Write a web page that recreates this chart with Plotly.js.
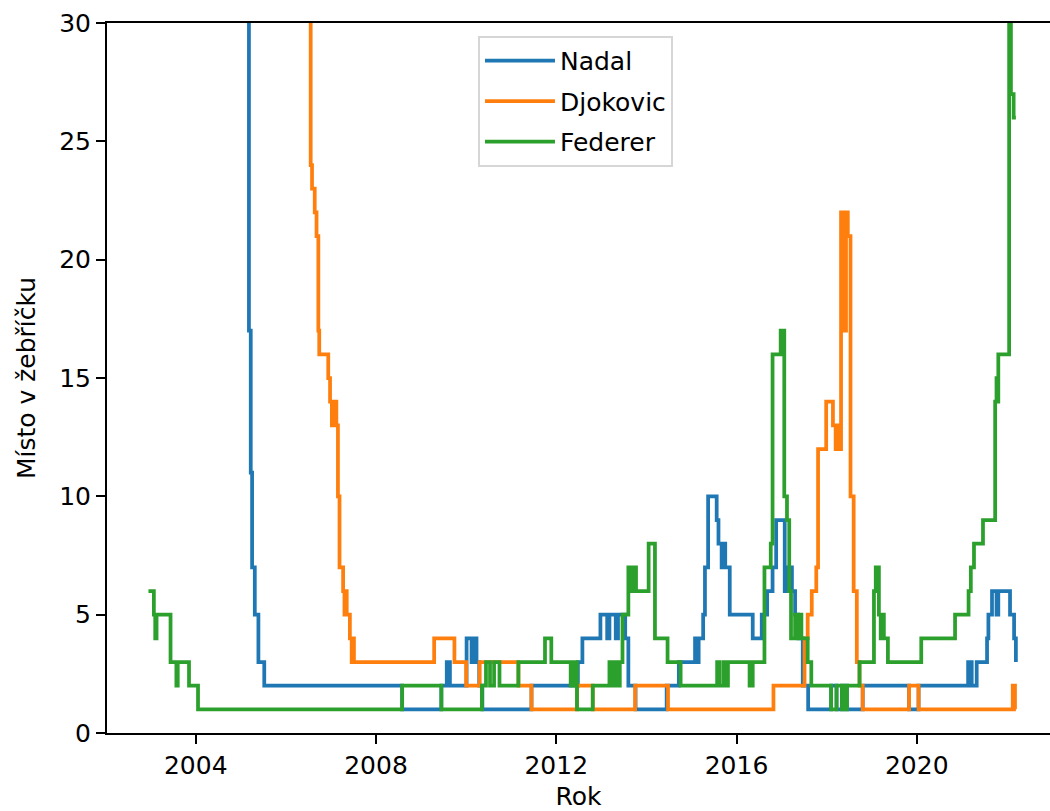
<!DOCTYPE html>
<html>
<head>
<meta charset="utf-8">
<script src="https://cdn.plot.ly/plotly-3.0.1.min.js"></script>
<style>
  html, body { margin: 0; padding: 0; background: #ffffff; }
  #chart { width: 1050px; height: 811px; }
</style>
</head>
<body>
<div id="chart"></div>
<script>
// ATP singles ranking history. Each pair (year, rank) is the moment (as a
// decimal year) from which a player held that rank; the line steps there.
const nadalYear = [2002.95, 2004.00, 2005.00, 2005.18, 2005.22, 2005.25, 2005.31, 2005.39, 2005.52,
  2008.58, 2009.45, 2009.57, 2009.64, 2010.01, 2010.12, 2010.17, 2010.23, 2010.29, 2010.36,
  2011.45, 2012.48, 2012.58, 2012.98, 2013.13, 2013.18, 2013.32, 2013.37, 2013.53, 2013.60, 2013.76,
  2014.45, 2014.72, 2015.08, 2015.12, 2015.16, 2015.26, 2015.30, 2015.37, 2015.56, 2015.60,
  2015.67, 2015.71, 2015.75, 2015.85, 2016.36, 2016.56, 2016.68, 2016.80, 2016.88,
  2017.07, 2017.11, 2017.15, 2017.19, 2017.23, 2017.30, 2017.37, 2017.47, 2017.59,
  2018.10, 2018.22, 2018.34, 2018.36, 2018.43, 2018.45, 2018.80, 2019.83, 2020.04,
  2021.14, 2021.22, 2021.33, 2021.56, 2021.59, 2021.67, 2021.77, 2021.81, 2022.07, 2022.16, 2022.20];
const nadalRank = [200, 49, 51, 17, 11, 7, 5, 3, 2,
  1, 2, 3, 2, 4, 3, 4, 3, 2, 1,
  2, 3, 4, 5, 4, 5, 4, 5, 4, 2, 1,
  2, 3, 4, 3, 4, 5, 7, 10, 9, 8,
  7, 8, 7, 5, 4, 5, 6, 7, 9,
  6, 7, 6, 7, 6, 5, 4, 2, 1,
  2, 1, 2, 1, 2, 1, 2, 1, 2,
  3, 2, 3, 4, 5, 6, 5, 6, 5, 4, 3];

const djokovicYear = [2002.95, 2004.00, 2005.00, 2006.00, 2006.45, 2006.55, 2006.58, 2006.64, 2006.68,
  2006.72, 2006.74, 2006.94, 2006.98, 2007.02, 2007.08, 2007.12, 2007.155, 2007.19, 2007.27,
  2007.30, 2007.32, 2007.35, 2007.42, 2007.46, 2007.48, 2007.51, 2009.29, 2009.74, 2010.00,
  2010.30, 2011.16, 2011.45, 2012.46, 2012.81, 2013.75, 2014.48, 2016.82, 2017.51, 2017.58,
  2017.67, 2017.77, 2017.81, 2017.99, 2018.14, 2018.20, 2018.23, 2018.27, 2018.32, 2018.40,
  2018.43, 2018.47, 2018.53, 2018.60, 2018.67, 2018.73, 2018.80, 2019.83, 2020.04, 2022.13,
  2022.18, 2022.20];
const djokovicRank = [680, 187, 83, 78, 40, 24, 23, 22, 21,
  17, 16, 15, 14, 13, 14, 13, 10, 7, 6,
  5, 6, 5, 4, 3, 4, 3, 4, 3, 2,
  3, 2, 1, 2, 1, 2, 1, 2, 4, 5,
  6, 7, 12, 14, 13, 12, 13, 12, 22, 17,
  22, 21, 10, 6, 3, 2, 1, 2, 1, 2,
  1, 1];

const federerYear = [2002.95, 2003.07, 2003.10, 2003.13, 2003.44, 2003.57, 2003.60, 2003.85, 2004.05,
  2008.58, 2009.45, 2010.35, 2010.44, 2010.53, 2010.62, 2010.74, 2011.16, 2011.75, 2011.89,
  2012.32, 2012.38, 2012.46, 2012.81, 2013.18, 2013.25, 2013.30, 2013.36, 2013.41, 2013.47,
  2013.60, 2013.67, 2013.71, 2013.77, 2014.05, 2014.19, 2014.47, 2014.76, 2015.57, 2015.63,
  2015.72, 2015.76, 2015.81, 2016.29, 2016.36, 2016.62, 2016.76, 2016.80, 2016.98, 2017.06,
  2017.12, 2017.17, 2017.21, 2017.30, 2017.34, 2017.37, 2017.44, 2017.58, 2017.66, 2018.10,
  2018.22, 2018.34, 2018.36, 2018.43, 2018.45, 2018.73, 2019.05, 2019.09, 2019.16, 2019.20,
  2019.23, 2019.27, 2019.36, 2020.10, 2020.85, 2021.15, 2021.20, 2021.27, 2021.47, 2021.74,
  2021.77, 2021.79, 2021.81, 2022.05, 2022.09, 2022.15, 2022.20];
const federerRank = [6, 5, 4, 5, 3, 2, 3, 2, 1,
  2, 1, 2, 3, 2, 3, 2, 3, 4, 3,
  2, 3, 1, 2, 3, 2, 3, 2, 3, 5,
  7, 6, 7, 6, 8, 4, 3, 2, 3, 2,
  3, 2, 3, 2, 3, 7, 8, 16, 17, 10,
  9, 6, 4, 5, 4, 5, 4, 3, 2, 1,
  2, 1, 2, 1, 2, 3, 6, 7, 5, 4,
  5, 4, 3, 4, 5, 6, 7, 8, 9, 14,
  15, 14, 16, 30, 27, 26, 26];

const playerNames = ['Nadal', 'Djokovic', 'Federer'];
const xTickYears = [2004, 2008, 2012, 2016, 2020];
const yTickRanks = [0, 5, 10, 15, 20, 25, 30];

const series = [
  { name: playerNames[0], x: nadalYear, y: nadalRank, color: '#1f77b4' },
  { name: playerNames[1], x: djokovicYear, y: djokovicRank, color: '#ff7f0e' },
  { name: playerNames[2], x: federerYear, y: federerRank, color: '#2ca02c' }
];

const traces = series.map(s => ({
  type: 'scatter',
  mode: 'lines',
  name: s.name,
  legendgroup: s.name,
  x: s.x,
  y: s.y,
  line: { color: s.color, width: 3.75, shape: 'hv' },
  hoverinfo: 'skip'
}));

const baseFont = { family: 'DejaVu Sans, sans-serif', size: 25, color: '#000000' };

const axisCommon = {
  showgrid: false,
  zeroline: false,
  showline: true,
  linecolor: '#000000',
  linewidth: 2,
  ticks: 'outside',
  ticklen: 9,
  tickwidth: 2,
  tickcolor: '#000000',
  tickfont: baseFont
};

const layout = {
  width: 1050,
  height: 811,
  margin: { l: 107, r: 0, t: 23, b: 78, pad: 0 },
  paper_bgcolor: '#ffffff',
  plot_bgcolor: '#ffffff',
  font: baseFont,
  showlegend: true,
  xaxis: Object.assign({}, axisCommon, {
    type: 'linear',
    range: [2002.03, 2022.957],
    tickvals: xTickYears,
    ticktext: xTickYears.map(String),
    mirror: true,
    title: { text: 'Rok', font: baseFont, standoff: 10 }
  }),
  yaxis: Object.assign({}, axisCommon, {
    range: [0, 30],
    tickvals: yTickRanks,
    ticktext: yTickRanks.map(String),
    title: { text: 'Místo v žebříčku', font: baseFont, standoff: 16 }
  }),
  legend: {
    x: 0.3934,
    y: 0.982,
    xanchor: 'left',
    yanchor: 'top',
    bgcolor: '#ffffff',
    bordercolor: '#d6d6d6',
    borderwidth: 2,
    font: baseFont,
    itemwidth: 70,
    tracegroupgap: 5,
    entrywidthmode: 'pixels',
    entrywidth: 125
  }
};

Plotly.newPlot('chart', traces, layout, { staticPlot: true });
</script>
</body>
</html>
